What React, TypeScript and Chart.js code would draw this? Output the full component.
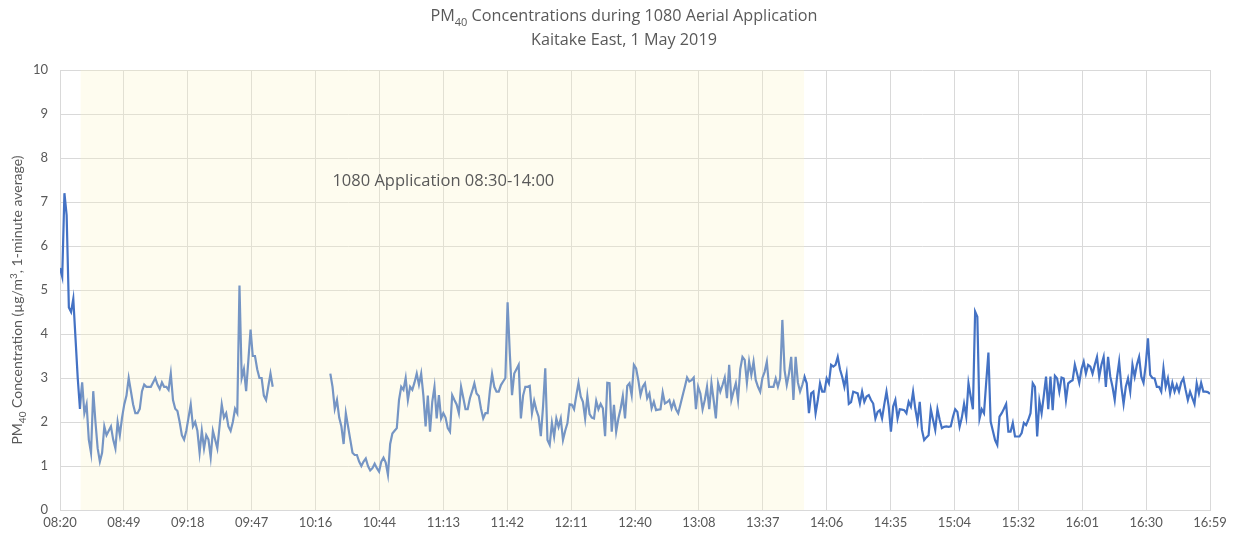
import React, { useEffect, useRef } from "react";
import { Chart, registerables } from "chart.js";

Chart.register(...registerables);

// minutes after 08:20, one value per minute (µg/m³), null = no data
const pm40: (number | null)[] = [
  5.5, 5.3, 7.2, 6.7, 4.6, 4.5, 4.8, 3.9, 3.0, 2.3,
  2.9, 2.2, 2.4, 1.6, 1.3, 2.7, 2.0, 1.4, 1.1, 1.3,
  1.9, 1.7, 1.8, 1.9, 1.6, 1.4, 2.0, 1.7, 2.1, 2.4,
  2.6, 3.0, 2.7, 2.4, 2.2, 2.2, 2.3, 2.7, 2.85, 2.8,
  2.8, 2.8, 2.9, 3.0, 2.85, 2.75, 2.9, 2.8, 2.8, 2.73,
  3.1, 2.5, 2.3, 2.25, 2.0, 1.7, 1.6, 1.8, 2.1, 2.4,
  1.9, 2.0, 1.8, 1.3, 1.8, 1.4, 1.7, 1.6, 1.2, 1.8,
  1.6, 1.4, 1.9, 2.4, 2.1, 2.2, 1.9, 1.8, 2.0, 2.3,
  2.2, 5.1, 3.0, 3.2, 2.7, 3.4, 4.1, 3.5, 3.5, 3.2,
  3.0, 3.0, 2.6, 2.5, 2.8, 3.1, 2.8, null, null, null,
  null, null, null, null, null, null, null, null, null, null,
  null, null, null, null, null, null, null, null, null, null,
  null, null, 3.1, 2.8, 2.3, 2.5, 2.1, 1.9, 1.5, 2.2,
  1.9, 1.6, 1.3, 1.25, 1.25, 1.1, 1.0, 1.1, 1.17, 1.0,
  0.9, 0.95, 1.05, 0.95, 0.87, 1.1, 1.19, 1.08, 0.8, 1.5,
  1.74, 1.8, 1.86, 2.5, 2.8, 2.73, 3.0, 2.5, 2.8, 2.73,
  2.9, 3.1, 2.85, 3.1, 2.6, 1.9, 2.6, 1.78, 2.46, 2.8,
  2.08, 2.61, 2.08, 2.2, 2.1, 1.86, 1.78, 2.61, 2.5, 2.4,
  2.2, 2.8, 2.55, 2.29, 2.29, 2.54, 2.7, 2.88, 2.65, 2.59,
  2.3, 2.08, 2.2, 2.2, 2.7, 3.09, 2.8, 2.69, 2.69, 2.84,
  2.92, 3.0, 4.72, 3.56, 2.61, 3.1, 3.2, 3.3, 2.08, 2.6,
  2.8, 2.8, 2.82, 2.2, 2.48, 2.27, 2.12, 1.68, 2.35, 3.22,
  1.59, 1.48, 1.98, 1.67, 2.08, 1.89, 2.08, 1.59, 1.8, 1.97,
  2.4, 2.39, 2.29, 2.6, 2.89, 2.58, 2.46, 2.08, 2.59, 2.18,
  2.1, 2.08, 2.48, 2.29, 2.41, 2.31, 1.68, 2.89, 2.88, 1.78,
  2.39, 1.78, 2.08, 2.3, 2.59, 2.08, 2.82, 2.88, 2.61, 3.3,
  3.22, 2.95, 2.61, 2.8, 2.88, 2.54, 2.65, 2.31, 2.46, 2.27,
  2.28, 2.29, 2.67, 2.42, 2.45, 2.5, 2.31, 2.46, 2.29, 2.2,
  2.4, 2.6, 2.8, 3.01, 2.92, 2.95, 3.01, 2.29, 2.8, 2.65,
  2.29, 2.5, 2.8, 2.29, 2.88, 2.5, 2.08, 2.88, 2.69, 2.84,
  3.01, 2.54, 3.3, 2.5, 2.7, 2.88, 2.5, 3.2, 3.48, 3.41,
  2.89, 3.37, 3.07, 3.37, 2.95, 2.8, 2.69, 3.0, 3.14, 3.37,
  2.8, 2.8, 2.8, 2.99, 2.8, 2.99, 4.32, 3.18, 2.84, 3.1,
  3.48, 2.5, 3.48, 2.9, 2.69, 2.84, 3.03, 2.88, 2.2, 2.65,
  2.69, 2.2, 2.5, 2.88, 2.69, 2.69, 2.99, 2.88, 3.3, 3.26,
  3.3, 3.48, 3.2, 3.03, 2.8, 3.09, 2.41, 2.45, 2.69, 2.67,
  2.65, 2.42, 2.69, 2.46, 2.58, 2.61, 2.5, 2.42, 2.08, 2.23,
  2.27, 2.08, 2.4, 2.69, 2.35, 1.78, 2.35, 2.5, 2.08, 2.29,
  2.28, 2.27, 2.2, 2.46, 2.35, 2.69, 2.3, 2.01, 2.46, 1.82,
  1.59, 1.65, 1.7, 2.29, 2.05, 1.82, 2.29, 2.05, 1.86, 1.89,
  1.9, 1.89, 1.9, 2.12, 2.29, 2.23, 1.89, 2.1, 2.41, 2.12,
  2.88, 2.58, 2.29, 4.51, 4.39, 2.08, 2.29, 2.2, 2.9, 3.58,
  2.01, 1.8, 1.59, 1.48, 2.12, 2.2, 2.3, 2.41, 1.78, 1.78,
  1.98, 1.67, 1.67, 1.67, 1.75, 1.98, 1.93, 2.05, 2.2, 2.88,
  2.8, 1.67, 2.48, 2.2, 2.6, 3.03, 2.29, 3.03, 2.27, 3.05,
  2.99, 2.69, 3.01, 2.99, 2.5, 2.88, 2.92, 2.95, 3.3, 3.1,
  2.89, 3.2, 3.37, 3.1, 3.3, 3.26, 3.1, 3.3, 3.48, 3.03,
  3.3, 3.48, 2.8, 3.48, 3.03, 2.8, 2.5, 3.0, 3.37, 2.8,
  2.41, 2.8, 2.99, 2.69, 3.3, 3.03, 3.3, 3.48, 3.03, 2.89,
  3.3, 3.9, 3.07, 3.0, 2.99, 2.8, 2.8, 2.69, 3.22, 2.8,
  2.99, 2.65, 2.89, 2.69, 2.84, 2.69, 2.9, 2.99, 2.73, 2.5,
  2.69, 2.55, 2.41, 2.88, 2.65, 2.89, 2.69, 2.69, 2.68, 2.64,
];

const xTickLabels = [
  "08:20", "08:49", "09:18", "09:47", "10:16", "10:44", "11:13", "11:42", "12:11", "12:40",
  "13:08", "13:37", "14:06", "14:35", "15:04", "15:32", "16:01", "16:30", "16:59",
];
const yTicks = [0, 1, 2, 3, 4, 5, 6, 7, 8, 9, 10];

// application window (minutes after 08:20) and its label
const applicationStart = 9.3;
const applicationEnd = 335.8;
const applicationLabel = "1080 Application 08:30-14:00";
const applicationLabelAt = { x: 173, y: 7.48 };

const titleLine1 = [
  { t: "PM", k: "n" },
  { t: "40", k: "sub" },
  { t: " Concentrations during 1080 Aerial Application", k: "n" },
];
const titleLine2 = [{ t: "Kaitake East, 1 May 2019", k: "n" }];
const yTitle = [
  { t: "PM", k: "n" },
  { t: "40", k: "sub" },
  { t: " Concentration (µg/m", k: "n" },
  { t: "3", k: "sup" },
  { t: ", 1-minute average)", k: "n" },
];

const FONT = "Lato, 'Open Sans', sans-serif";
const TFONT = "'Open Sans', Lato, sans-serif";
const GREY = "#595959";

function drawRuns(
  ctx: CanvasRenderingContext2D,
  runs: { t: string; k: string }[],
  cx: number,
  cy: number,
  size: number,
  family: string
) {
  const fontFor = (k: string) => `${k === "n" ? size : Math.round(size * 0.68)}px ${family}`;
  let total = 0;
  for (const r of runs) {
    ctx.font = fontFor(r.k);
    total += ctx.measureText(r.t).width;
  }
  let x = cx - total / 2;
  ctx.textAlign = "left";
  ctx.textBaseline = "alphabetic";
  for (const r of runs) {
    ctx.font = fontFor(r.k);
    const dy = r.k === "sub" ? size * 0.28 : r.k === "sup" ? -size * 0.38 : 0;
    ctx.fillText(r.t, x, cy + dy);
    x += ctx.measureText(r.t).width;
  }
}

const overlayPlugin = {
  id: "overlay",
  afterDatasetsDraw(chart: any) {
    const { ctx, chartArea, scales } = chart;
    const x0 = scales.x.getPixelForValue(applicationStart);
    const x1 = scales.x.getPixelForValue(applicationEnd);
    ctx.save();
    ctx.fillStyle = "rgba(251, 243, 196, 0.27)";
    ctx.fillRect(x0, chartArea.top, x1 - x0, chartArea.bottom - chartArea.top);
    ctx.fillStyle = GREY;
    ctx.font = `16.5px ${TFONT}`;
    ctx.textAlign = "center";
    ctx.textBaseline = "middle";
    ctx.fillText(
      applicationLabel,
      scales.x.getPixelForValue(applicationLabelAt.x),
      scales.y.getPixelForValue(applicationLabelAt.y)
    );
    ctx.restore();
  },
  afterDraw(chart: any) {
    const { ctx } = chart;
    ctx.save();
    ctx.fillStyle = GREY;
    drawRuns(ctx, titleLine1, 624, 21, 16.2, TFONT);
    drawRuns(ctx, titleLine2, 624, 45, 16.2, TFONT);
    ctx.translate(22, 300);
    ctx.rotate(-Math.PI / 2);
    drawRuns(ctx, yTitle, 0, 0, 14, FONT);
    ctx.restore();
  },
};

export default function App() {
  const ref = useRef<HTMLCanvasElement | null>(null);
  useEffect(() => {
    if (!ref.current) return;
    const maxX = pm40.length - 1;
    const chart = new Chart(ref.current, {
      type: "line",
      data: {
        datasets: [
          {
            data: pm40.map((v, i) => ({ x: i, y: v })) as any,
            borderColor: "#4472C4",
            borderWidth: 2.2,
            pointRadius: 0,
            tension: 0,
            spanGaps: false,
          },
        ],
      },
      options: {
        animation: false,
        responsive: false,
        events: [],
        layout: { padding: { left: 0, top: 70, right: 27, bottom: 0 } },
        plugins: { legend: { display: false }, tooltip: { enabled: false }, title: { display: false } },
        scales: {
          x: {
            type: "linear",
            min: 0,
            max: maxX,
            afterBuildTicks: (scale: any) => {
              scale.ticks = xTickLabels.map((_, i) => ({ value: (i * maxX) / (xTickLabels.length - 1) }));
            },
            afterFit: (scale: any) => {
              scale.height = 33;
            },
            ticks: {
              autoSkip: false,
              maxRotation: 0,
              padding: 5,
              color: GREY,
              font: { family: FONT, size: 13 },
              callback: (_v: any, i: number) => xTickLabels[i],
            },
            grid: { color: "#D9D9D9", lineWidth: 1, drawTicks: false },
            border: { color: "#D9D9D9" },
          },
          y: {
            min: 0,
            max: 10,
            afterBuildTicks: (scale: any) => {
              scale.ticks = yTicks.map((v) => ({ value: v }));
            },
            afterFit: (scale: any) => {
              scale.width = 60;
            },
            ticks: {
              padding: 12,
              color: GREY,
              font: { family: FONT, size: 13 },
            },
            grid: { color: "#D9D9D9", lineWidth: 1, drawTicks: false },
            border: { color: "#D9D9D9" },
          },
        },
      },
      plugins: [overlayPlugin],
    });
    return () => chart.destroy();
  }, []);
  return (
    <div style={{ position: "fixed", left: 0, top: 0, width: 1237, height: 543, background: "#fff" }}>
      <canvas ref={ref} width={1237} height={543} />
    </div>
  );
}
